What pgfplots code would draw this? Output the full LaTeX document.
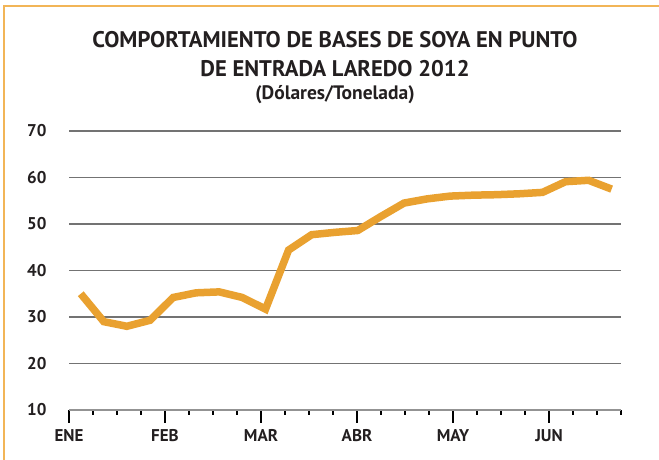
\documentclass[border=0pt]{standalone}
\usepackage{fontspec}
\setmainfont{PT Sans}
\usepackage{pgfplots}
\pgfplotsset{compat=1.18}
\definecolor{lineor}{HTML}{E9A130}
\definecolor{frameor}{HTML}{F2B557}
\definecolor{txt}{HTML}{231F20}
\begin{document}
\begin{tikzpicture}[x=1pt,y=1pt]
\useasboundingbox (0,0) rectangle (659,460);
\draw[frameor, line width=2.5pt] (4,0) -- (4,454) -- (659,454);
\node[font=\bfseries\fontsize{22.6}{22.6}\selectfont, text=txt, anchor=base] at (335,412) {COMPORTAMIENTO DE BASES DE SOYA EN PUNTO};
\node[font=\bfseries\fontsize{22.6}{22.6}\selectfont, text=txt, anchor=base] at (335,383) {DE ENTRADA LAREDO 2012};
\node[font=\bfseries\fontsize{19.5}{19.5}\selectfont, text=txt, anchor=base] at (335,360) {(Dólares/Tonelada)};
\begin{axis}[
  scale only axis, width=552pt, height=279pt,
  at={(69pt,50pt)}, anchor=south west,
  xmin=0, xmax=23, ymin=10, ymax=70,
  axis x line*=bottom, axis y line*=left,
  y axis line style={draw=none},
  x axis line style={draw=gray!85, line width=1.6pt, -},
  xtick={0,4,8,12,16,20},
  xticklabels={ENE,FEB,MAR,ABR,MAY,JUN},
  minor xtick={1,2,3,5,6,7,9,10,11,13,14,15,17,18,19,21,22,23},
  ytick={10,20,30,40,50,60,70},
  ymajorgrids, grid style={draw=gray!90!black, line width=1.3pt},
  tick align=outside,
  major tick length=13pt, minor tick length=5pt,
  xtick style={draw=black, line width=2.6pt},
  ytick style={draw=none},
  major x tick style={draw=black, line width=2.6pt},
  minor x tick style={draw=black, line width=2.6pt},
  tick label style={font=\bfseries\fontsize{17}{17}\selectfont, text=txt},
  /pgf/number format/assume math mode=true,
  xticklabel style={yshift=-3pt},
  yticklabel style={xshift=-6pt},
  clip=false,
]
\addplot[lineor, line width=7.5pt, line join=miter] coordinates {
(0.49,35.0) (1.45,29.0) (2.41,28.0) (3.38,29.3) (4.34,34.2) (5.30,35.2)
(6.26,35.4) (7.22,34.2) (8.19,31.7) (9.15,44.4) (10.11,47.7) (11.07,48.2)
(12.03,48.6) (12.99,51.6) (13.96,54.5) (14.92,55.4) (15.88,56.0) (16.84,56.2)
(17.80,56.3) (18.77,56.5) (19.73,56.8) (20.69,59.1) (21.65,59.4) (22.61,57.5)
};
\end{axis}
\end{tikzpicture}
\end{document}
